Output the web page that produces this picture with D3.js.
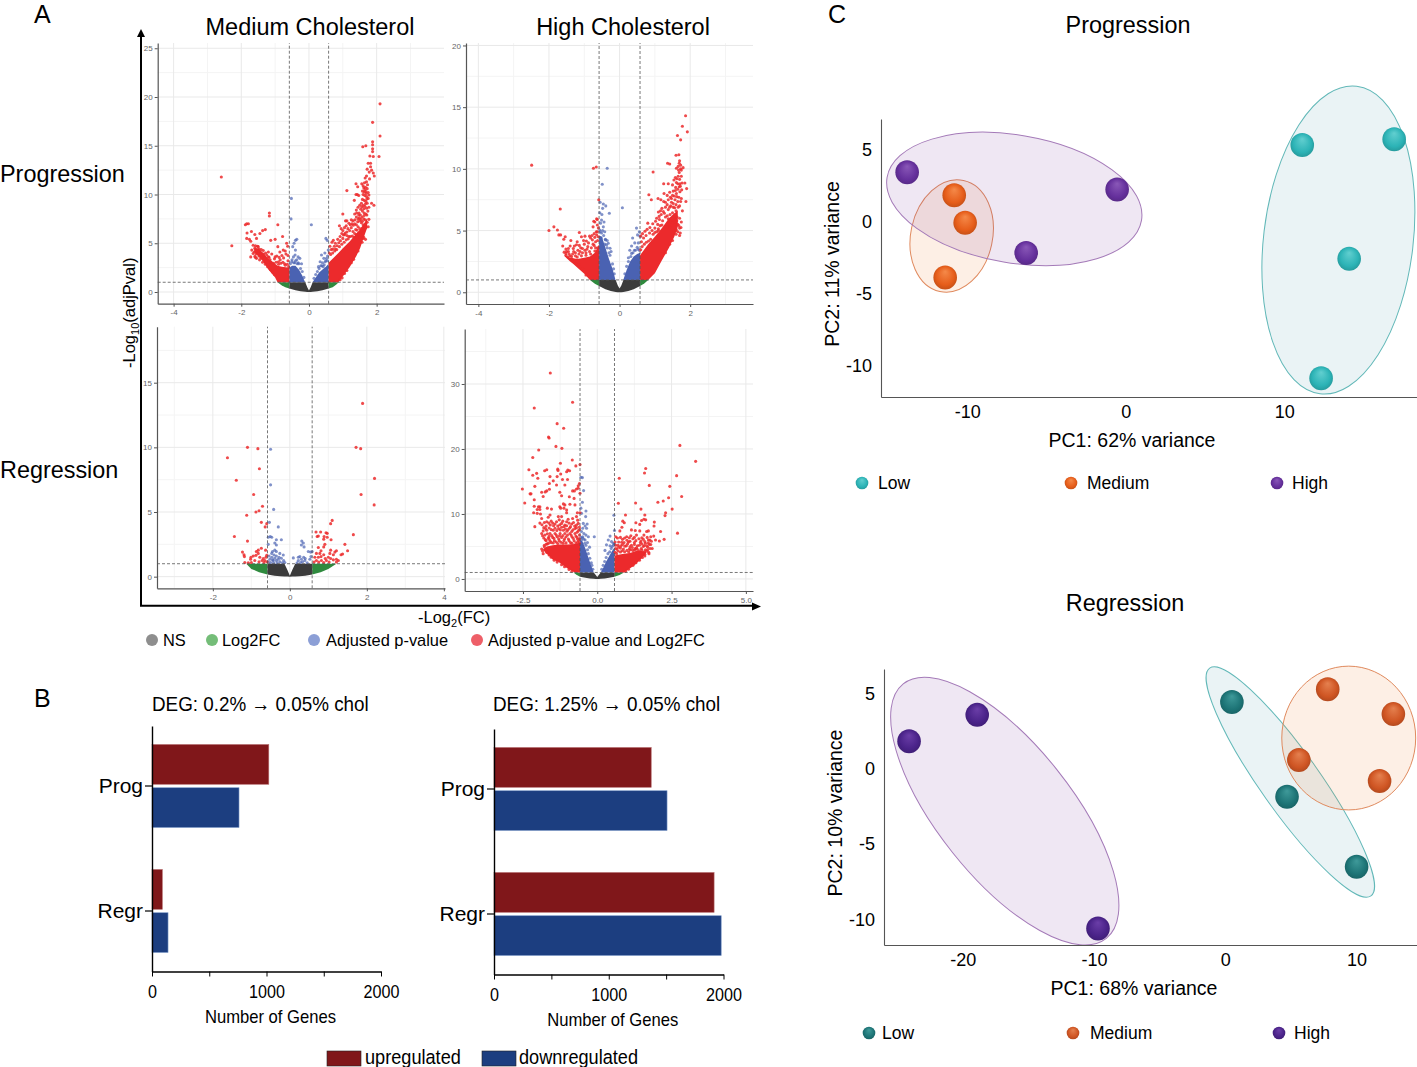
<!DOCTYPE html>
<html><head><meta charset="utf-8">
<script src="https://cdn.jsdelivr.net/npm/d3@7/dist/d3.min.js"></script>
<style>html,body{margin:0;padding:0;background:#fff}svg{display:block}text{font-family:"Liberation Sans",Arial,sans-serif}</style>
</head><body><svg id="c" width="1417" height="1067"></svg>
<script>
/* Volcano data. Sparse genes are individual [log2FC, -log10p] points.
   The saturated core of each cloud cannot be told apart gene by gene, so it is kept as
   [x, lower, upper] envelope rows read from the picture and filled with d3.area. */

// Panel A – Medium / Progression
const mpRed=[[2.10,19.3],[1.88,17.4],[2.10,16.0],[1.88,15.4],[1.88,15.1],[1.68,15.0],[1.59,14.9],[1.88,14.7],[1.88,14.4],[2.07,13.9],[1.90,13.9],[1.80,13.95],[1.75,13.2],[1.82,13.2],[1.82,12.85],[1.85,12.5],[1.90,12.2],[1.93,11.9],[-2.59,11.8],[-2.28,4.75],[1.72,12.6],[1.78,12.3],[1.70,11.9],[1.79,11.6],
[-1.17,8.1],[-1.17,7.8],[-.92,6.9],[-1.79,7.0],[-1.84,7.0],[-1.88,6.9],[-1.83,6.05],[-1.70,6.2],[-1.29,6.4],[-1.37,6.3],[-1.45,6.0],[-1.60,5.9],[-1.55,5.5],[-1.84,5.5],[-1.76,5.4],[-1.72,5.2],[-.78,5.7],[-1.0,5.4],[-1.13,5.3],[-.66,5],[-.92,4.65],[-.63,4.7],[-.76,4.3],[-.86,4.1],[-1.65,4.8],[-1.6,4.5],[-1.69,4.3],[-1.72,3.6],[-1.58,4.75],[-1.52,4.7],[-1.47,4.4],[-1.62,4.1],[-1.56,3.9],[-1.41,4.35],[-1.35,4.25],[-1.28,4.0],[-1.48,3.7],[-1.2,3.6],[-1.1,3.9],[-1.02,3.4],[-.95,3.7],[-.85,3.3],[-.75,3.5],[-.68,3.9],[-.62,3.2],[-.9,3.1],[-1.15,3.3],[-.72,2.9],
[-1.55,4.3],[-1.5,4.65],[-1.44,4.0],[-1.38,3.7],[-1.3,3.5],[-1.25,3.8],[-1.18,3.55],[-1.42,3.5],[-1.5,3.95],[-1.6,3.65],[-1.55,3.45],[-1.46,3.3],[-1.37,3.05],[-1.29,2.85],[-1.22,2.6],[-1.14,2.3],[-1.08,2.05],[-1.02,1.8],[-1.12,3.05],[-1.05,2.95],[-.97,3.05],[-.9,2.85],[-.83,2.95],[-.77,3.05],[-.7,2.75],[-.64,2.85],[-.6,2.6],[-1.0,3.6],[-.88,3.55],[-.8,3.75],[-.7,4.2],[-.62,3.75],[-1.2,4.1],[-1.65,3.95],[-1.58,3.55],[-1.34,3.9],
[1.0,8.0],[1.12,10.4],[1.39,11.1],[1.44,10.8],[1.39,10.0],[1.43,10.0],[1.47,9.9],[1.34,9.4],[1.56,11.1],[1.60,10.9],[1.66,11.7],[1.62,10.7],[1.65,10.5],[1.68,10.3],[1.72,10.6],[1.75,10.2],[1.60,10.0],[1.65,9.9],[1.70,9.8],[1.75,9.6],[1.58,9.5],[1.63,9.4],[1.68,9.3],[1.72,9.1],[1.55,9.1],[1.60,8.9],[1.65,8.8],[1.70,8.6],[1.85,9.1],[1.92,8.9],[1.50,8.9],[1.53,8.5],[1.58,8.3],[1.63,8.1],[1.68,8.0],[1.45,8.7],[1.40,8.4],[1.48,8.1],[1.52,7.9],[1.57,7.7],[1.62,7.5],[1.35,8.0],[1.40,7.7],[1.45,7.5],[1.50,7.3],[1.55,7.1],[1.60,6.9],[1.65,6.8],[1.75,6.7],[1.30,7.3],[1.25,7.4],[1.12,7.3],[1.08,7.3],[1.35,7.0],[1.40,6.9],[1.45,6.7],[1.50,6.5],[1.55,6.3],[1.60,6.1],[.90,6.8],[.95,6.5],[1.0,6.3],[1.05,6.6],[1.10,6.8],[1.15,6.5],[1.20,6.3],[1.25,6.6],[1.30,6.2],[1.35,6.0],[1.40,5.9],[.78,5.0],[.72,5.3],[.68,5.1],[.62,4.7],[.85,5.4],[.92,5.7],[1.0,5.5],[1.05,5.9],[1.12,5.8],[1.18,5.7],[.7,4.4],[.78,4.4],[1.5,5.6],[1.6,5.5],[1.67,5.4],
[1.41,8.1],[1.47,7.9],[1.44,7.2],[1.49,7.6],[1.53,7.45],[1.58,7.25],[1.63,7.85],[1.66,7.4],[1.71,7.9],[1.74,8.3],[1.77,8.7],[1.62,8.55],[1.56,8.75],[1.67,9.05],[1.71,9.55],[1.77,9.95],[1.69,10.1],[1.63,10.25],[1.58,10.35],[1.67,10.75],[1.73,11.0],[1.70,11.3],[1.64,11.2],[1.36,7.4],[1.31,6.85],[1.27,7.0],[1.22,6.9],[1.18,7.05],[1.42,6.35],[1.47,6.05],[1.53,5.85],[1.58,6.55],[1.62,6.35],[1.68,6.6],[1.72,7.15],[1.77,7.45],[1.12,6.15],[1.07,6.05],[1.02,5.85],[.97,6.0],[.93,5.25],[.88,5.05],[.83,4.75],[.75,4.7],[.66,4.35],[.60,4.0],[.64,3.85],[.7,4.0],[.76,4.2],[.82,4.35],[.9,4.65],[.97,4.9],[1.04,5.1],[1.1,5.35],[1.16,5.45],[1.22,5.7],[1.28,5.75],[1.33,5.6],[1.38,6.4],[1.12,2.2],[1.25,3.0],[1.32,3.35],[1.45,4.2],[1.57,5.1],[1.62,5.6],[1.05,1.9],[.98,1.45],[.92,1.25]];
const mpBlue=[[-.52,9.6],[-.53,7.5],[.07,6.9],[-.36,5.4],[-.40,5.3],[-.44,5.0],[-.48,4.65],[-.40,4.3],[-.41,3.8],[-.32,3.6],[-.27,3.45],[-.36,3.3],[-.22,2.9],[-.46,3.6],[-.51,3.1],[-.42,3.0],[-.3,2.9],[.5,5.5],[.54,5.3],[.57,4.3],[.47,4.0],[.37,3.8],[.44,3.45],[.33,3.1],[.52,3.45],[.4,3.0],[.55,3.7],[.48,3.1],[.28,2.6],[.35,2.7],
[-.55,2.9],[-.5,3.3],[-.45,3.0],[-.4,3.2],[-.35,2.9],[-.32,3.0],[-.25,2.4],[-.2,2.1],[-.15,1.5],[.15,1.4],[.2,1.8],[.25,2.1],[.3,2.4],[.38,2.7],[.45,2.8],[.5,3.2],[.55,3.2],[.42,2.6]];
const mpCore={red:[[[-1.62,4.1,4.5],[-1.5,3.7,4.5],[-1.35,3.1,4.0],[-1.2,2.3,3.4],[-1.0,1.5,2.9],[-.93,1,2.7],[-.8,1,2.6],[-.58,1,2.5]],[[.58,1,3.0],[.87,1,4.0],[1.0,1.6,4.5],[1.21,2.6,5.2],[1.4,3.7,6],[1.51,4.5,6.4],[1.66,6.0,7.2],[1.72,6.6,7.6]]],
blue:[[[-.58,1,2.5],[-.5,1,2.7],[-.4,1,2.7],[-.3,1,2.3],[-.2,1,1.7],[-.12,1,1.05]],[[.11,1,1.03],[.2,1,1.5],[.3,1,2.0],[.4,1,2.3],[.5,1,2.6],[.58,1,2.9]]],
green:[[[-.93,1,1],[-.8,.66,1],[-.7,.5,1],[-.58,.35,1]],[[.58,.35,1],[.7,.5,1],[.8,.75,1],[.88,1,1]]],
ns:[[[-.58,.35,1],[-.4,.17,1],[-.25,.07,1],[-.11,.03,1],[-.05,.01,.5],[0,0,.15],[.05,.01,.5],[.11,.03,1],[.25,.07,1],[.4,.17,1],[.58,.35,1]]]};

// Panel A – High / Progression
const hpRed=[[-2.49,10.3],[-.74,10.05],[-.66,10.15],[-1.68,6.75],[-2.0,5.0],[-1.86,5.3],[-1.76,5.05],[-1.72,4.65],[-1.67,4.65],[-1.54,4.5],[-1.58,4.3],[-1.38,4.2],[-1.14,4.85],[-1.08,4.5],[-.98,4.55],[-1.61,3.75],[-1.45,3.55],[-1.2,4.1],[-1.22,3.85],[-1.45,3.3],[-1.52,3.0],[-1.31,3.55],[-.82,4.4],[-.77,4.25],[-.70,4.45],[-.65,4.65],[-.63,4.9],[-.75,5.3],[-.7,5.7],[-.63,5.9],[-.59,7.5],[-.65,5.95],[-.73,5.75],[-.63,5.45],[-.6,5.2],[-1.1,3.6],[-1.0,3.9],[-.9,3.7],[-.85,3.3],[-.95,3.2],[-.72,3.8],[-1.25,3.2],[-1.4,2.95],[-1.05,3.2],[-1.15,3.1],[-.62,4.2],[-.68,3.6],
[-1.5,3.3],[-1.43,3.1],[-1.36,2.9],[-1.3,3.3],[-1.25,2.95],[-1.18,3.4],[-1.12,3.3],[-1.05,3.55],[-.98,3.4],[-.92,3.5],[-.88,4.0],[-.8,3.6],[-.75,3.9],[-.68,4.1],[-.62,3.6],[-.6,4.5],[-.66,4.9],[-.72,4.75],[-.78,4.6],[-.85,4.55],[-.94,4.15],[-1.02,4.2],[-1.14,3.8],[-1.28,3.75],[-1.4,3.75],[-1.52,3.5],[-1.57,3.25],[-1.33,3.1],[-1.2,2.85],[-1.08,2.95],[-.95,3.0],[-.82,3.1],[-.7,3.35],[-1.35,2.7],[-1.25,2.55],[-1.15,2.25],[-1.05,1.9],[-.95,1.4],[-1.46,2.85],[-1.52,3.15],
[1.87,14.3],[1.78,13.45],[1.92,13],[1.64,12.7],[1.73,12.35],[1.68,11.15],[1.6,11.1],[.95,9.75],[1.36,10.45],[1.42,10.4],[1.69,10.45],[1.73,10.3],[1.8,10.1],[1.61,10.05],[1.67,9.9],[1.73,10],[1.69,9.7],[1.66,9.4],[1.75,9.4],[1.85,8.85],[1.54,9.1],[1.61,8.9],[1.71,8.8],[1.25,8.8],[1.38,8.8],[1.5,8.7],[1.59,8.5],[1.69,8.55],[1.9,8.4],[1.76,8.3],[.83,7.9],[1.26,8],[1.42,8.1],[1.52,8.2],[1.61,8],[1.71,8.15],[.9,7.5],[1.09,7.6],[1.17,7.5],[1.25,7.35],[1.38,7.5],[1.47,7.6],[1.57,7.5],[1.88,7.35],[1.73,7.35],[1.78,6.6],[1.2,6.8],[1.3,6.9],[1.38,6.7],[1.45,7.0],[1.52,6.9],[1.6,7.1],[1.66,6.9],[1.1,6.5],[1.18,6.3],[1.27,6.4],[1.35,6.2],[1.43,6.3],[1.5,6.45],[1.56,6.2],[1.63,6.1],[1.7,6.0],[1.75,5.7],[1.05,6.0],[1.13,5.9],[1.22,5.8],[.8,5.6],[1.0,5.2],[.92,5.0],[.85,4.8],[.75,4.6],[.68,4.4],[.62,4.1],[1.08,5.5],[1.65,5.5],[1.7,5.2],[1.6,5.1],[1.72,4.8],[1.55,4.9],
[1.2,5.45],[1.15,5.4],[1.1,5.15],[1.05,4.9],[1.0,4.85],[.95,4.7],[.88,4.3],[.82,4.15],[.76,4.05],[.7,3.9],[.64,3.7],[.6,3.45],[.72,4.95],[.65,4.75],[.6,4.55],[.78,5.1],[.86,5.25],[.94,5.55],[1.02,5.75],[1.12,6.15],[1.16,6.6],[1.24,6.55],[1.3,6.1],[1.38,5.95],[1.45,5.8],[1.5,5.6],[1.42,5.3],[1.56,5.7],[1.62,5.8],[1.68,5.4],[1.74,5.25],[1.65,4.9],[1.6,4.7],[1.7,4.6],[1.3,7.3],[1.35,7.1],[1.42,6.9],[1.47,7.3],[1.52,7.2],[1.56,6.85],[1.6,6.6],[1.65,7.35],[1.7,7.0],[1.75,7.6],[1.68,7.7],[1.62,7.75],[1.55,7.8],[1.5,7.85],[1.44,7.7],[1.35,7.85],[1.58,8.25],[1.65,8.35],[1.72,8.6],[1.77,8.85],[1.65,8.8],[1.62,9.2],[1.7,9.15],[1.58,9.3],[1.66,10.2],[1.7,10.65],[1.75,9.9],[1.1,5.0],[1.2,3.1],[1.3,3.2],[1.42,3.9],[1.5,4.2],[1.6,5.0]];
const hpBlue=[[-.35,10.05],[-.49,8.75],[-.55,7.3],[-.46,7.15],[-.39,7],[-.48,6.8],[-.29,6.4],[-.5,6.3],[-.56,6.45],[-.51,5.85],[-.44,5.7],[-.54,5.6],[-.46,5.3],[-.56,5.05],[-.42,4.9],[-.51,4.8],[-.32,3.97],[-.37,3.84],[-.27,3.57],[-.24,3.3],[-.4,4.25],[-.35,4.2],[.08,6.85],[.48,5.2],[.56,4.9],[.51,4.65],[.58,4.55],[.37,4.4],[.43,4],[.53,4],[.34,3.75],[.5,3.65],[.42,3.4],[.29,3.4],[.56,3.4],[.34,3.15],
[-.55,4.9],[-.48,5.0],[-.52,4.4],[-.45,4.6],[-.4,4.3],[-.42,3.9],[-.35,3.6],[-.3,3.2],[-.27,3.0],[-.2,2.3],[-.17,1.9],[-.15,1.5],[.15,1.5],[.2,2.1],[.25,2.5],[.32,2.9],[.38,3.2],[.45,3.4],[.52,3.5],[.25,2.8]];
const hpCore={red:[[[-1.55,2.9,3.0],[-1.4,2.5,2.8],[-1.31,2.3,2.75],[-1.2,2.0,2.7],[-1.0,1.5,2.8],[-.84,1,2.9],[-.7,1,3.2],[-.58,1,3.9]],[[.58,1,3.0],[.81,1,3.9],[1.0,1.55,4.5],[1.2,2.6,5.2],[1.4,3.6,6.0],[1.55,4.5,6.4],[1.65,5.3,6.6]]],
blue:[[[-.58,1,4.6],[-.5,1,4.5],[-.4,1,3.6],[-.3,1,2.7],[-.2,1,1.9],[-.12,1,1.05]],[[.11,1,1.03],[.2,1,1.8],[.3,1,2.5],[.4,1,2.9],[.5,1,3.1],[.58,1,3.2]]],
green:[[[-.84,1,1],[-.7,.7,1],[-.58,.5,1]],[[.58,.5,1],[.7,.72,1],[.81,1,1]]],
ns:[[[-.58,.5,1],[-.4,.25,1],[-.25,.11,1],[-.11,.03,1],[-.05,.01,.55],[0,0,.3],[.05,.01,.55],[.11,.03,1],[.25,.11,1],[.4,.25,1],[.58,.5,1]]]};

// Panel A – Medium / Regression
const mrRed=[[1.89,13.4],[1.72,10],[1.84,9.9],[2.2,7.6],[1.85,6.35],[2.19,5.55],[-1.1,10],[-.83,9.9],[-1.62,9.2],[-.79,8.35],[-1.39,7.45],[-.94,6.35],[-.71,5.45],[-.8,5.1],[-.88,5],[-1.12,4.75],[-.74,4.2],[-.6,4.1],[-.64,3.85],[-1.44,3.1],[-1.1,2.75],
[1.1,4.35],[1.06,4.1],[1.65,3.25],[.68,3.45],[.8,3.45],[.94,3.4],[.97,3.35],[.71,3.1],[.74,3.15],[.89,3.1],[.97,3.05],[1.07,2.85],[.88,2.9],[1.43,2.5],[.91,2.5],[.88,2.3],[.74,2.25],[.81,2],[.78,1.8],[1.5,2],[1.21,2],[1.17,1.9],[1.06,2.05],[1.04,1.8],[1.37,1.75],[1.33,1.7],[1.13,1.7],[.88,1.7],[.69,1.8],[.65,1.5],[.74,1.5],[.81,1.55],[1.06,1.4],[1.21,1.35],[1.26,1.25],[1.13,1.3],[.95,1.25],[.82,1.25],[.69,1.25],[.63,1.13],[.75,1.13],[.88,1.1],[1.02,1.13],[1.21,1.13],[1.0,1.5],[.92,1.4],
[-1.23,1.9],[-1.19,1.7],[-1.18,1.55],[-1.01,1.5],[-.95,1.6],[-.88,1.65],[-.82,2.05],[-.74,2.2],[-.63,2.05],[-.91,1.25],[-.8,1.15],[-.69,1.4],[-.65,1.25],[-.6,1.65],[-1.08,1.08],[-1,1.1],[-1.17,1.1],[-1.02,1.35],[-.82,1.8],[-.78,1.5],[-.72,1.25],[-.67,1.1],[-.62,1.5],[-.59,1.15],[-.87,1.95]];
const mrBlue=[[-.5,9.85],[-.5,7.1],[-.42,5.2],[-.53,4.2],[-.3,3.85],[-.56,3.05],[-.51,3.1],[-.47,3.05],[-.35,2.85],[-.22,2.85],[-.39,2.6],[-.35,2.45],[-.56,2.5],[-.39,2.05],[-.45,1.95],[-.47,1.8],[-.35,1.95],[-.26,1.8],[-.17,1.68],[-.41,1.68],[-.35,1.6],[-.28,1.5],[-.22,1.42],[-.16,1.25],[-.54,1.6],[-.47,1.5],[-.39,1.42],[-.52,1.35],[-.43,1.25],[-.35,1.25],[-.26,1.15],[-.19,1.08],[-.56,1.15],[-.5,1.1],[-.42,1.08],[-.33,1.08],[-.13,1.1],[-.45,1.3],[-.3,1.35],
[.31,2.75],[.35,2.6],[.3,2.45],[.37,2.3],[.48,1.95],[.54,1.9],[.58,1.95],[.22,1.5],[.26,1.55],[.36,1.5],[.3,1.35],[.22,1.25],[.39,1.25],[.33,1.15],[.52,1.35],[.45,1.08],[.09,1.45],[.19,1.08],[.55,1.55],[.28,1.1],[.4,1.4]];
const mrCore={red:[],blue:[],
green:[[[-1.13,1,1],[-1.0,.6,1],[-.8,.35,1],[-.58,.16,1]],[[.58,.16,1],[.8,.35,1],[1.0,.6,1],[1.21,1,1]]],
ns:[[[-.58,.16,1],[-.4,.08,1],[-.25,.04,1],[-.14,.02,1],[-.06,.01,.5],[0,0,.08],[.06,.01,.5],[.14,.02,1],[.25,.04,1],[.4,.08,1],[.58,.16,1]]]};

// Panel A – High / Regression
const hrRed=[[-1.58,31.7],[-.83,27.2],[-2.12,26.3],[-1.35,23.9],[-1.13,23.2],[-1.64,21.85],[-1.62,21.7],[-1.39,20.4],[-1.19,20.1],[-1.97,19.85],[-2.17,18.7],[-.84,18.3],[-1.24,17.8],[-.58,17.6],[-.72,17.4],[-1.33,16.9],[-1.32,16.7],[-1.7,16.8],[-1.77,16.65],[-2.3,16.8],[-2.04,16.25],[-2.17,15.95],[-.99,16.75],[-.93,16.65],[-1.03,16.5],[-1.23,16.15],[-1.35,15.75],[-1.59,15.75],[-2,15.5],[-1.48,15.1],[-1.17,15.3],[-1,15.3],[-1.61,14.7],[-1.37,14.45],[-1.09,14.45],[-2.1,14.25],[-2.52,13.85],[-.64,14.35],[-.6,14.7],[-.7,13.85],[-.64,13.95],[-.83,13.55],[-.77,13.55],[-1.61,13.8],[-1.7,13.55],[-1.75,13.4],[-1.87,13.35],[-1.26,13.35],[-2.23,13.1],[-2.26,13.1],[-1.2,12.8],[-1.82,12.7],[-.94,12.65],[-.78,12.4],[-.58,13.2],[-2.12,12.2],[-2.44,11.7],[-1.14,11.55],[-1.09,11.4],[-2.12,11.2],[-1.98,11.1],[-1.93,11.1],[-1.26,11.1],[-.92,11.5],[-.75,11.4],[-1.68,10.9],[-1.54,10.75],[-2.02,10.7],[-1.93,10.7],[-1.23,10.9],[-1.12,10.9],[-1.03,10.6],[-2.14,10.2],[-2.02,10.1],[-1.91,10],[-.67,10.2],[-.58,10.2],[-1.03,10.2],[-1.59,9.85],[-1.31,9.6],[-1.2,9.6],[-1.87,9.3],[-1.65,9.5],[-.98,9.2],[-.83,9.3],[-.7,9.6],[-2.1,8.05],[-1.7,8.8],[-1.37,8.8],[-1.28,9.1],[-1.03,8.8],[-1.42,8.45],[-1.2,8.55],[-1.09,8.3],[-.86,8.45],[-.64,8.55],[-1.58,8.3],[-1.82,7.4],[-1.7,7.5],[-1.48,7.5],[-1.3,7.75],[-1.14,7.5],[-.98,7.6],[-.75,7.75],[-.64,7.4],[-1.87,7],[-1.76,6.75],[-1.59,7],[-1.42,7],[-1.25,7],[-1.09,7],[-.92,7],[-.75,7],[-1.8,6.3],[-1.65,6.3],[-1.5,6.4],[-1.35,6.5],[-1.2,6.4],[-1.05,6.5],[-.85,6.5],[-.68,6.4],[-1.72,5.9],[-1.58,5.8],[-1.44,5.9],[-1.28,5.9],[-1.12,5.9],[-.95,5.9],[-.78,5.9],[-.62,5.9],[-1.78,5.2],[-1.68,5.4],[-1.87,4.6],[-1.82,3.9],
[-1.93,8.6],[-1.86,8.35],[-1.78,8.7],[-1.72,8.15],[-1.63,8.6],[-1.55,8.9],[-1.47,8.2],[-1.5,8.6],[-1.33,8.15],[-1.26,8.35],[-1.16,8.9],[-1.12,8.05],[-1.03,8.2],[-.95,8.6],[-.9,8.05],[-.8,8.7],[-.76,8.15],[-.7,8.3],[-.6,8.0],[-.66,9.05],[-1.8,7.9],[-1.74,7.75],[-1.62,7.85],[-1.55,7.6],[-1.42,7.8],[-1.36,7.45],[-1.24,7.55],[-1.2,7.95],[-1.07,7.7],[-1.02,7.35],[-.93,7.85],[-.86,7.3],[-.82,7.55],[-.7,7.9],[-.6,7.6],[-.68,7.2],[-1.84,6.65],[-1.68,6.95],[-1.62,6.55],[-1.53,6.7],[-1.46,6.25],[-1.38,6.75],[-1.3,6.2],[-1.27,6.65],[-1.16,6.7],[-1.1,6.2],[-1.0,6.75],[-.97,6.15],[-.88,6.75],[-.81,6.25],[-.72,6.6],[-.66,6.1],[-.6,6.75],[-.6,6.2],[-1.75,6.05],[-1.62,6.1],[-1.55,5.6],[-1.48,5.55],[-1.38,5.7],[-1.33,5.45],[-1.22,5.65],[-1.15,5.5],[-1.05,5.55],[-.9,5.6],[-.85,5.5],[-.72,5.55],[-.66,5.65],[-.6,5.5],[-1.64,5.5],[-1.72,5.35],[-1.78,4.95],[-1.84,4.3],[-1.75,4.45],[-1.7,4.1],[-1.62,3.7],[-1.55,3.35],[-1.45,2.9],[-1.35,2.6],[-1.2,2.2],[-1.1,1.9],[-.95,1.45],[-.85,1.2],
[3.31,18.1],[2.78,20.55],[2.67,15.9],[1.63,17],[1.59,16.3],[.74,15.5],[1.75,14.4],[2.44,14.25],[2.84,12.7],[2.4,12.5],[2.22,12],[2.04,11.8],[2.52,10.75],[2.3,10.2],[2.28,9.75],[.71,11.65],[1.29,11.7],[1.47,10.75],[1.6,9.85],[1.57,9.2],[1.63,9.1],[1.49,9],[.95,9.85],[1.92,8.75],[1.91,8.15],[1.3,8.65],[.86,8.9],[.91,8.65],[.83,7.95],[1.43,8.4],[2.13,7.3],[2.7,7.05],[1.72,7.4],[1.66,7.3],[1.43,7.4],[1.28,7.45],[1.15,7.55],[.76,7.4],[1.57,6.75],[1.13,6.65],[.99,6.5],[1.32,6.75],[2.25,6.1],[1.96,6],[2.09,5.85],[1.77,6],[1.72,6],[.68,6.3],[.85,6.1],[1.2,6.2],[1.4,6.2],[1.55,6.1],[.72,5.7],[.9,5.6],[1.05,5.7],[1.25,5.6],[1.45,5.6],[1.62,5.5],[1.75,5.3],[1.85,4.7],[1.78,4.7],[1.7,4.9],[.62,5.2],[.8,5.1],[.98,5.1],[1.15,5.2],[1.35,5.1],[1.55,5.0],[.66,4.6],[.88,4.6],[1.08,4.6],[1.28,4.7],[1.48,4.7],[1.62,4.5],[1.74,3.9],
[.6,4.1],[.65,3.9],[.7,4.3],[.78,4.15],[.84,4.35],[.92,4.2],[1.0,4.4],[1.06,4.15],[1.12,4.5],[1.2,4.4],[1.26,4.5],[1.35,4.55],[1.42,4.35],[1.5,4.45],[1.58,4.2],[1.66,4.3],[1.7,4.5],[1.73,4.1],[1.6,3.8],[.62,4.7],[.72,4.9],[.78,4.75],[.85,5.3],[.93,5.05],[1.02,5.4],[1.1,4.95],[1.18,4.85],[1.25,5.3],[1.32,4.8],[1.42,5.2],[1.5,5.4],[1.58,5.15],[1.66,5.1],[1.72,5.55],[1.8,5.3],[1.82,5.8],[.7,5.2],[.6,5.7],[.82,5.65],[1.0,5.95],[1.1,5.8],[1.3,5.9],[1.47,5.85],[1.6,5.75],[.62,6.5],[.78,6.4],[.92,6.3],[1.08,6.35],[1.25,6.4],[1.5,6.35],[1.68,6.4],[1.8,6.5],[1.9,6.6],[1.6,3.55],[1.52,3.3],[1.42,2.9],[1.3,2.5],[1.2,2.1],[1.05,1.5],[.95,1.2]];
const hrBlue=[[-.5,15.6],[-.55,15.65],[-.46,13.6],[-.5,11.8],[-.55,10.9],[-.38,10.45],[-.53,10.1],[-.39,9.6],[-.47,8.55],[-.34,8.45],[-.41,8.15],[-.49,7.8],[-.36,7.8],[-.53,7.3],[-.45,7],[-.38,6.75],[-.49,6.5],[-.1,6.5],[-.3,6.5],[-.41,6],[-.53,6],[-.33,5.6],[-.26,4.9],[.56,9.8],[.58,7.45],[.43,6.6],[.37,6],[.48,5.75],[.31,5.25],[.43,5.1],[.54,5.5],[.26,4.4],
[-.55,6.4],[-.5,6.3],[-.45,6.15],[-.42,5.5],[-.38,5.2],[-.33,4.5],[-.3,3.9],[-.25,3.2],[-.2,2.5],[-.18,2.1],[-.15,1.5],[.15,1.5],[.2,2.1],[.25,2.7],[.3,3.3],[.36,3.9],[.42,4.2],[.47,4.7],[.55,5.2],[.58,5.4],[.5,5.0]];
const hrCore={red:[[[-1.82,4.5,4.6],[-1.7,3.9,5.0],[-1.5,3.0,5.2],[-1.3,2.6,5.3],[-1,1.6,5.3],[-.75,1,5.4],[-.58,1,5.6]],[[.58,1,3.6],[.8,1,3.8],[.9,1,3.9],[1.1,1.6,4.0],[1.3,2.3,4.3],[1.5,3.2,4.3],[1.65,4.0,4.2]]],
blue:[[[-.58,1,6],[-.5,1,5.8],[-.4,1,4.7],[-.3,1,3.3],[-.2,1,2],[-.12,1,1.05]],[[.12,1,1.05],[.2,1,1.7],[.3,1,2.7],[.4,1,3.5],[.5,1,4.3],[.58,1,4.9]]],
green:[[[-.8,1,1],[-.7,.65,1],[-.58,.35,1]],[[.58,.35,1],[.75,.6,1],[.9,1,1]]],
ns:[[[-.58,.35,1],[-.4,.18,1],[-.25,.08,1],[-.12,.03,1],[-.05,.01,.6],[0,0,.3],[.05,.01,.6],[.12,.03,1],[.25,.08,1],[.4,.18,1],[.58,.35,1]]]};

const panelTitles=["Medium Cholesterol","High Cholesterol"];
const rowTitles=["Progression","Regression"];
const volcanoLegend=["NS","Log2FC","Adjusted p-value","Adjusted p-value and Log2FC"];

// Panel B
const barCategories=["Prog","Regr"];
const barGroups=["upregulated","downregulated"];
const bar02Up=[1020,90], bar02Down=[760,140];
const bar125Up=[1370,1918], bar125Down=[1508,1980];
const barTicks=[0,500,1000,1500,2000], barLabelled=[0,1000,2000];

// Panel C
const pcaGroups=["Low","Medium","High"];
const progLow=[[11.14,5.3],[16.94,5.7],[14.1,-2.6],[12.33,-10.9]];
const progMedium=[[-10.82,1.8],[-10.13,-.1],[-11.39,-3.9]];
const progHigh=[[-13.79,3.4],[-.54,2.2],[-6.28,-2.2]];
const regrLow=[[.5,4.45],[4.7,-1.85],[10,-6.5]];
const regrMedium=[[7.8,5.3],[12.8,3.65],[11.75,-.8],[5.6,.6]];
const regrHigh=[[-24.09,1.85],[-18.9,3.6],[-9.7,-10.6]];
// ellipses: centre x, centre y, semi-axis along x scale, semi-axis along y scale, tilt in degrees
const progEllipses=[[13.42,-1.3,4.72,10.75,6.8],[-10.98,-1.02,2.58,3.94,12],[-7.03,1.55,8.14,4.44,9.6]];
const regrEllipses=[[4.95,-0.86,10.63,1.96,54.7],[9.4,2.06,5.1,4.78,0],[-16.8,-2.8,12.4,4.43,51.4]];

const svg=d3.select("#c");
const defs=svg.append("defs");
const vColors={ns:"#3b3b3b",green:"#2f8a3e",blue:"#4a62b2",red:"#ec2a2c"};

function txt(x,y,s,size,opt={}){
  const t=svg.append("text").attr("x",x).attr("y",y).attr("font-size",size).attr("fill",opt.fill||"#000")
    .attr("text-anchor",opt.anchor||"start").text(s);
  if(opt.rotate!=null)t.attr("transform",`rotate(${opt.rotate} ${x} ${y})`);
  if(opt.squeeze)squeeze(t,opt.squeeze);
  return t;
}
function squeeze(t,ratio){
  const w=t.node().getComputedTextLength();
  t.attr("textLength",w*ratio).attr("lengthAdjust","spacingAndGlyphs");
}

function volcano(cfg){
  const x=d3.scaleLinear().domain(cfg.xd).range(cfg.xr);
  const y=d3.scaleLinear().domain(cfg.yd).range(cfg.yr);
  const g=svg.append("g");
  const minor=g.append("g"), major=g.append("g");
  cfg.xMinor.forEach(v=>minor.append("line").attr("x1",x(v)).attr("x2",x(v)).attr("y1",cfg.yr[0]).attr("y2",cfg.yr[1]).attr("stroke","#f4f4f4"));
  cfg.yMinor.forEach(v=>minor.append("line").attr("y1",y(v)).attr("y2",y(v)).attr("x1",cfg.xr[0]).attr("x2",cfg.xr[1]).attr("stroke","#f4f4f4"));
  cfg.xTicks.forEach(v=>major.append("line").attr("x1",x(v)).attr("x2",x(v)).attr("y1",cfg.yr[0]).attr("y2",cfg.yr[1]).attr("stroke","#e9e9e9"));
  cfg.yTicks.forEach(v=>major.append("line").attr("y1",y(v)).attr("y2",y(v)).attr("x1",cfg.xr[0]).attr("x2",cfg.xr[1]).attr("stroke","#e9e9e9"));
  const area=d3.area().x(d=>x(d[0])).y0(d=>y(d[1])).y1(d=>y(d[2]));
  ["ns","green","blue","red"].forEach(k=>{
    (cfg.core[k]||[]).forEach(rows=>g.append("path").attr("d",area(rows)).attr("fill",vColors[k]));
  });
  const pts=(arr,c,o)=>g.append("g").selectAll("circle").data(arr).join("circle")
    .attr("cx",d=>x(d[0])).attr("cy",d=>y(d[1])).attr("r",1.55).attr("fill",c).attr("fill-opacity",o);
  pts(cfg.blue,vColors.blue,.7);
  pts(cfg.red,vColors.red,.85);
  const dash=(x1,x2,y1,y2)=>g.append("line").attr("x1",x1).attr("x2",x2).attr("y1",y1).attr("y2",y2).attr("stroke","#555").attr("stroke-width",.8).attr("stroke-dasharray","3 2");
  [-.58,.58].forEach(v=>dash(x(v),x(v),cfg.yr[0],cfg.yr[1]));
  dash(cfg.xr[0],cfg.xr[1],y(1),y(1));
  const sty=a=>{a.selectAll("path").attr("stroke","#555").attr("stroke-width",1.2);a.selectAll("line").attr("stroke","#555");a.selectAll("text").attr("fill","#666").attr("font-size",8);};
  g.append("g").attr("transform",`translate(0,${cfg.yr[0]})`).call(d3.axisBottom(x).tickValues(cfg.xTicks).tickSize(3).tickPadding(3).tickSizeOuter(0).tickFormat(cfg.xFmt||(d=>String(d)))).call(sty);
  g.append("g").attr("transform",`translate(${cfg.xr[0]},0)`).call(d3.axisLeft(y).tickValues(cfg.yTicks).tickSize(3).tickPadding(2).tickSizeOuter(0).tickFormat(d=>String(d))).call(sty);
}

volcano({xd:[-4.47,3.99],xr:[157.7,444],yd:[-1.2,25.54],yr:[303.7,43],xTicks:[-4,-2,0,2],xMinor:[-3,-1,1,3],yTicks:[0,5,10,15,20,25],yMinor:[2.5,7.5,12.5,17.5,22.5],red:mpRed,blue:mpBlue,core:mpCore});
volcano({xd:[-4.35,3.78],xr:[466,753],yd:[-.95,20.2],yr:[304,43],xTicks:[-4,-2,0,2],xMinor:[-3,-1,1,3],yTicks:[0,5,10,15,20],yMinor:[2.5,7.5,12.5,17.5],red:hpRed,blue:hpBlue,core:hpCore});
volcano({xd:[-3.45,4.03],xr:[157,445],yd:[-.9,19.33],yr:[588.3,326.7],xTicks:[-2,0,2,4],xMinor:[-3,-1,1,3],yTicks:[0,5,10,15],yMinor:[2.5,7.5,12.5,17.5],red:mrRed,blue:mrBlue,core:mrCore});
volcano({xd:[-4.46,5.24],xr:[464.7,753],yd:[-1.85,38.46],yr:[591,329],xTicks:[-2.5,0,2.5,5],xMinor:[-3.75,-1.25,1.25,3.75],yTicks:[0,10,20,30],yMinor:[5,15,25,35],xFmt:d=>d3.format(".1f")(d).replace("−","-"),red:hrRed,blue:hrBlue,core:hrCore});

// outer arrows of panel A
svg.append("path").attr("d","M141,36V605.7H753").attr("fill","none").attr("stroke","#000").attr("stroke-width",2);
svg.append("path").attr("d","M141,29l-4,8h8z").attr("fill","#000");
svg.append("path").attr("d","M761,606.5l-9,-4v8z").attr("fill","#000");

txt(310,35,panelTitles[0],23.5,{anchor:"middle"});
txt(623,35,panelTitles[1],23.5,{anchor:"middle"});
txt(0,182,rowTitles[0],23.4);
txt(0,478,rowTitles[1],23.4);
txt(34,23,"A",25);
txt(34,707,"B",25);
txt(828,23,"C",25);

const yl=svg.append("text").attr("transform","translate(135,368) rotate(-90)").attr("font-size",16.5);
yl.append("tspan").text("-Log");
yl.append("tspan").text("10").attr("font-size",11).attr("dy",4);
yl.append("tspan").text("(adjPval)").attr("dy",-4);
const xl=svg.append("text").attr("x",418).attr("y",623).attr("font-size",16.5);
xl.append("tspan").text("-Log");
xl.append("tspan").text("2").attr("font-size",11).attr("dy",4);
xl.append("tspan").text("(FC)").attr("dy",-4);

const legCols=["#8e8e8e","#74bd78","#8c9fd6","#ee5f68"], legDot=[152,212,314,477], legTxt=[163,222,326,488];
volcanoLegend.forEach((s,i)=>{
  svg.append("circle").attr("cx",legDot[i]).attr("cy",640).attr("r",6).attr("fill",legCols[i]);
  txt(legTxt[i],646,s,16.4);
});

// Panel B
function bars(cfg){
  const x=d3.scaleLinear().domain([0,2000]).range(cfg.xr);
  const cy=d3.scalePoint().domain(barCategories).range(cfg.cy);
  const inner=d3.scaleBand().domain(barGroups).range([-41.5,41.5]).paddingInner(.08);
  const cols={upregulated:"#80171a",downregulated:"#1c3e80"};
  const edge={upregulated:"#b56a6c",downregulated:"#7d9ac8"};
  const g=svg.append("g");
  barCategories.forEach((c,i)=>{
    [[barGroups[0],cfg.up[i]],[barGroups[1],cfg.down[i]]].forEach(([k,v])=>{
      g.append("rect").attr("x",x(0)).attr("y",cy(c)+inner(k)).attr("width",x(v)-x(0)).attr("height",inner.bandwidth())
       .attr("fill",cols[k]).attr("stroke",edge[k]).attr("stroke-width",.6);
    });
  });
  const ax=g.append("g").attr("transform",`translate(0,${cfg.axisY})`).call(d3.axisBottom(x).tickValues(barTicks).tickSize(5).tickPadding(8).tickSizeOuter(0).tickFormat(d=>barLabelled.includes(d)?d:""));
  ax.selectAll("path").attr("stroke","#000").attr("stroke-width",1.6);
  ax.selectAll("line").attr("stroke","#000");
  ax.selectAll("text").attr("font-size",19).attr("fill","#000").each(function(){squeeze(d3.select(this),.85);});
  const ay=g.append("g").attr("transform",`translate(${cfg.xr[0]},0)`).call(d3.axisLeft(d3.scaleLinear().range([cfg.axisY,cfg.top])).tickValues([]).tickSizeOuter(0));
  ay.selectAll("path").attr("stroke","#000").attr("stroke-width",1.4);
  barCategories.forEach(c=>{
    g.append("line").attr("x1",cfg.xr[0]-7).attr("x2",cfg.xr[0]).attr("y1",cy(c)).attr("y2",cy(c)).attr("stroke","#000").attr("stroke-width",1.2);
    txt(cfg.xr[0]-9,cy(c)+7,c,21,{anchor:"end"});
  });
  txt((cfg.xr[0]+cfg.xr[1])/2+4,cfg.axisY+51,"Number of Genes",19,{anchor:"middle",squeeze:.875});
  txt(cfg.titleX,711,cfg.title,21,{squeeze:.897});
}
bars({xr:[152,381],cy:[786,911],axisY:971.5,top:726,up:bar02Up,down:bar02Down,title:"DEG: 0.2% → 0.05% chol",titleX:152});
bars({xr:[494,723.5],cy:[789,914],axisY:974.5,top:729,up:bar125Up,down:bar125Down,title:"DEG: 1.25% → 0.05% chol",titleX:493});
const bLeg=[[327,365,"#80171a"],[482,519,"#1c3e80"]];
barGroups.forEach((s,i)=>{
  svg.append("rect").attr("x",bLeg[i][0]).attr("y",1051).attr("width",34).attr("height",15).attr("fill",bLeg[i][2]).attr("stroke","#222").attr("stroke-width",.6);
  txt(bLeg[i][1],1064,s,20.5,{squeeze:.885});
});

// Panel C
function ball(id,c0,c1){
  const g=defs.append("radialGradient").attr("id",id).attr("cx","50%").attr("cy","50%").attr("r","55%").attr("fx","50%").attr("fy","25%");
  g.append("stop").attr("offset","0%").attr("stop-color",c0);
  g.append("stop").attr("offset","70%").attr("stop-color",c1);
  g.append("stop").attr("offset","100%").attr("stop-color",d3.color(c1).darker(.5));
}
ball("bLow","#62cfd0","#2cb3b6"); ball("bMed","#f58a4a","#e65d1a"); ball("bHigh","#8a58b8","#65309c");
ball("bLow2","#3f9a9a","#1d7476"); ball("bMed2","#e58150","#cf5523"); ball("bHigh2","#6b3ea8","#4a2389");

function pca(cfg){
  const x=d3.scaleLinear().domain(cfg.xd).range(cfg.xr);
  const y=d3.scaleLinear().domain(cfg.yd).range(cfg.yr);
  const g=svg.append("g");
  cfg.ell.forEach((e,i)=>{
    const px=x(e[0]),py=y(e[1]);
    g.append("ellipse").attr("cx",0).attr("cy",0).attr("rx",x(e[0]+e[2])-px).attr("ry",y(e[1]-e[3])-py)
      .attr("transform",`translate(${px},${py}) rotate(${e[4]})`)
      .attr("fill",cfg.fills[i]).attr("stroke",cfg.strokes[i]).attr("stroke-width",1);
  });
  const ax=g.append("g").attr("transform",`translate(0,${cfg.yr[0]})`).call(d3.axisBottom(x).tickValues(cfg.xt).tickSize(0).tickPadding(8).tickSizeOuter(0).tickFormat(d=>String(d)));
  const ay=g.append("g").attr("transform",`translate(${cfg.xr[0]},0)`).call(d3.axisLeft(y).tickValues(cfg.yt).tickSize(0).tickPadding(9).tickSizeOuter(0).tickFormat(d=>String(d)));
  [ax,ay].forEach(a=>{a.selectAll("path").attr("stroke","#555").attr("stroke-width",1.1);a.selectAll("text").attr("font-size",18).attr("fill","#000");});
  cfg.groups.forEach((arr,i)=>{
    g.append("g").selectAll("ellipse").data(arr).join("ellipse").attr("cx",d=>x(d[0])).attr("cy",d=>y(d[1])).attr("rx",11.8).attr("ry",12).attr("fill",`url(#${cfg.balls[i]})`);
  });
  pcaGroups.forEach((s,i)=>{
    g.append("circle").attr("cx",cfg.legDot[i]).attr("cy",cfg.legY).attr("r",6.3).attr("fill",`url(#${cfg.balls[i]})`);
    txt(cfg.legTxt[i],cfg.legY+6,s,17.5);
  });
  txt(cfg.xlab[0],cfg.xlab[1],cfg.xlabel,19.5,{anchor:"middle"});
  txt(cfg.ylab[0],cfg.ylab[1],cfg.ylabel,19.5,{anchor:"middle",rotate:-90});
  txt(cfg.title[0],cfg.title[1],cfg.title[2],23.4,{anchor:"middle"});
}
const pcaFills=["rgba(70,150,170,.115)","rgba(240,120,40,.12)","rgba(110,40,150,.11)"];
const pcaStrokes=["#62b8b8","#e08a5e","#a47ab8"];
pca({xd:[-15.44,18.38],xr:[881,1417],yd:[-12.2,7.1],yr:[397,119],xt:[-10,0,10],yt:[-10,-5,0,5],ell:progEllipses,fills:pcaFills,strokes:pcaStrokes,groups:[progLow,progMedium,progHigh],balls:["bLow","bMed","bHigh"],legDot:[862,1071,1277],legTxt:[878,1087,1292],legY:483,xlab:[1132,447],xlabel:"PC1: 62% variance",ylab:[839,264],ylabel:"PC2: 11% variance",title:[1128,33,"Progression"]});
pca({xd:[-26,14.6],xr:[884,1417],yd:[-11.7,6.65],yr:[945,669],xt:[-20,-10,0,10],yt:[-10,-5,0,5],ell:regrEllipses,fills:pcaFills,strokes:pcaStrokes,groups:[regrLow,regrMedium,regrHigh],balls:["bLow2","bMed2","bHigh2"],legDot:[869,1073,1279],legTxt:[882,1090,1294],legY:1033,xlab:[1134,995],xlabel:"PC1: 68% variance",ylab:[842,813],ylabel:"PC2: 10% variance",title:[1125,611,"Regression"]});
</script></body></html>
